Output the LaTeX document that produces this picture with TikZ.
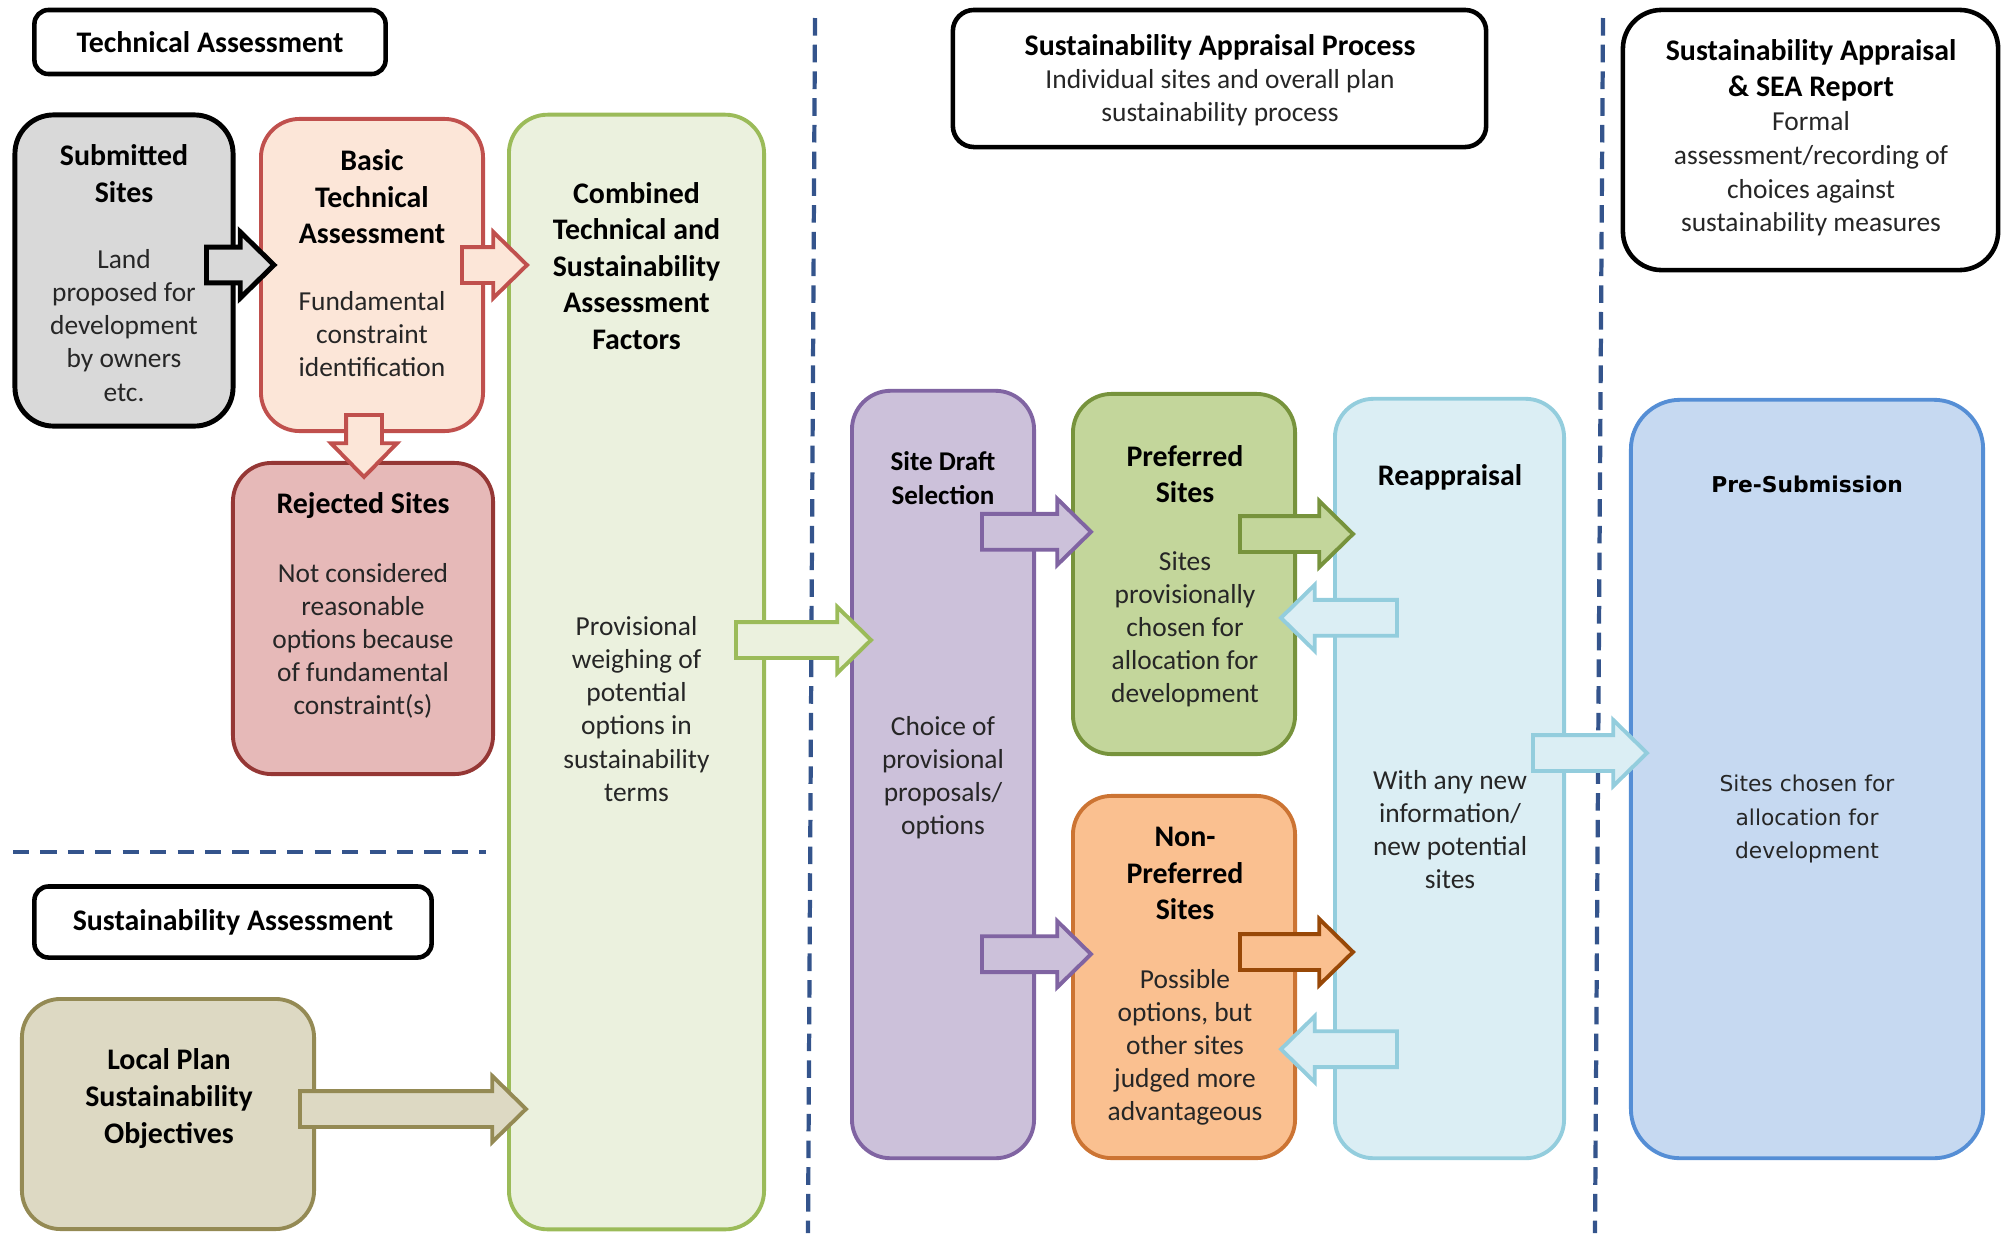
\documentclass[tikz,border=0pt]{standalone}
\usepackage{fontspec}
\setmainfont{Carlito}
\newfontfamily\verdanafont{DejaVu Sans}
\usepackage{xcolor}
\usepackage{tikz}
\usetikzlibrary{calc}

\definecolor{subfill}{HTML}{D9D9D9}
\definecolor{btafill}{HTML}{FCE6D8}
\definecolor{btadraw}{HTML}{C0504D}
\definecolor{rejfill}{HTML}{E6B9B8}
\definecolor{rejdraw}{HTML}{953735}
\definecolor{combfill}{HTML}{EBF1DE}
\definecolor{combdraw}{HTML}{9BBB59}
\definecolor{lpsfill}{HTML}{DDD9C3}
\definecolor{lpsdraw}{HTML}{948A54}
\definecolor{sdsfill}{HTML}{CCC1DA}
\definecolor{sdsdraw}{HTML}{8064A2}
\definecolor{preffill}{HTML}{C3D69B}
\definecolor{prefdraw}{HTML}{77933C}
\definecolor{npreffill}{HTML}{FAC090}
\definecolor{nprefdraw}{HTML}{CC7433}
\definecolor{nprefarr}{HTML}{984807}
\definecolor{reapfill}{HTML}{DBEEF4}
\definecolor{reapdraw}{HTML}{93CDDD}
\definecolor{psubfill}{HTML}{C6D9F1}
\definecolor{psubdraw}{HTML}{558ED5}
\definecolor{sepblue}{RGB}{52,84,140}
\definecolor{bodygray}{HTML}{262626}

\tikzset{
  box/.style={rounded corners=11pt, line width=1.1pt},
  hdr/.style={draw=black, fill=white, rounded corners=4pt, line width=1.3pt,
    font=\bfseries\fontsize{8.5}{10.4}\selectfont, align=center},
  ttl/.style={font=\bfseries\fontsize{8.5}{10.4}\selectfont, align=center, inner sep=0pt},
  txt/.style={font=\fontsize{7.8}{9.4}\selectfont, align=center, inner sep=0pt, text=bodygray},
  blockarr/.style={line width=1.1pt, line join=miter},
  sepline/.style={draw=sepblue, line width=1.2pt, dash pattern=on 5pt off 2.6pt},
  sephline/.style={sepline, dash pattern=on 4.6pt off 3.2pt}
}

% block arrow from #2 to #3 (tip), style #1, kept axis aligned
\newcommand\blockarrow[3]{%
  \draw[blockarr,#1] let \p1=#2, \p2=#3,
      \n1={90*round(atan2(\y2-\y1,\x2-\x1)/90)}, \n2={veclen(\x2-\x1,\y2-\y1)} in
    [shift={(\p1)}, rotate=\n1]
    (0pt,5.1pt) -- ({\n2*1pt-9.6pt},5.1pt) -- ({\n2*1pt-9.6pt},9.4pt) -- ({\n2*1pt},0pt)
    -- ({\n2*1pt-9.6pt},-9.4pt) -- ({\n2*1pt-9.6pt},-5.1pt) -- (0pt,-5.1pt) -- cycle;}

\begin{document}
\begin{tikzpicture}[x=0.01cm,y=-0.01cm]
	\useasboundingbox (0,0) rectangle (2004,1239);
	%
	\draw[sepline] (815,18) -- (808,1233);
	\draw[sepline] (1603,18) -- (1595,1233);
	\draw[sephline] (13,852) -- (486,852);
	%
	\node[hdr, minimum width=3.51cm, minimum height=0.64cm] (hdrta) at (210,42) {Technical Assessment};
	\node[hdr, minimum width=3.97cm, minimum height=0.71cm] (hdrsa) at (233,922) {Sustainability Assessment};
	\node[hdr, minimum width=5.33cm, minimum height=1.37cm, rounded corners=6pt] (hdrsap) at (1219.5,78.5) {};
	\node[hdr, minimum width=3.75cm, minimum height=2.60cm, rounded corners=11pt] (hdrsea) at (1810.5,140) {};
	%
	\node[box, draw=black, fill=subfill, line width=1.4pt, minimum width=2.18cm, minimum height=3.11cm] (sub) at (124,270.5) {};
	\node[box, draw=btadraw, fill=btafill, minimum width=2.22cm, minimum height=3.12cm] (bta) at (372,275) {};
	\node[box, draw=rejdraw, fill=rejfill, minimum width=2.60cm, minimum height=3.11cm] (rej) at (363,618.5) {};
	\node[box, draw=combdraw, fill=combfill, minimum width=2.55cm, minimum height=11.14cm] (comb) at (636.5,672) {};
	\node[box, draw=lpsdraw, fill=lpsfill, minimum width=2.92cm, minimum height=2.30cm] (lps) at (168,1114) {};
	\node[box, draw=sdsdraw, fill=sdsfill, minimum width=1.82cm, minimum height=7.67cm] (sds) at (943,774.5) {};
	\node[box, draw=prefdraw, fill=preffill, minimum width=2.22cm, minimum height=3.60cm] (pref) at (1184,574) {};
	\node[box, draw=nprefdraw, fill=npreffill, minimum width=2.22cm, minimum height=3.62cm] (npref) at (1184,977) {};
	\node[box, draw=reapdraw, fill=reapfill, minimum width=2.29cm, minimum height=7.59cm] (reap) at (1449.5,778.5) {};
	\node[box, draw=psubdraw, fill=psubfill, rounded corners=14pt, minimum width=3.52cm, minimum height=7.58cm] (psub) at (1807,779) {};
	%
	\blockarrow{draw=black, fill=subfill, line width=1.4pt}{($(sub.east)+(-29,-5.5)$)}{($(bta.west)+(15,-10)$)}
	\blockarrow{draw=btadraw, fill=btafill}{($(bta.east)+(-23,-10)$)}{($(comb.north west)+(20,150)$)}
	\blockarrow{draw=btadraw, fill=btafill}{($(bta.south)+(-8,-18)$)}{($(rej.north)+(1,16)$)}
	\blockarrow{draw=combdraw, fill=combfill}{($(comb.east)+(-30,-32)$)}{($(sds.west)+(21,-134.5)$)}
	\blockarrow{draw=lpsdraw, fill=lpsfill}{($(lps.east)+(-16,-5)$)}{($(comb.south west)+(19,-120)$)}
	\blockarrow{draw=sdsdraw, fill=sdsfill}{($(sds.north east)+(-54,143)$)}{($(pref.west)+(20,-40)$)}
	\blockarrow{draw=sdsdraw, fill=sdsfill}{($(sds.south east)+(-54,-206)$)}{($(npref.west)+(20,-25)$)}
	\blockarrow{draw=prefdraw, fill=preffill}{($(pref.east)+(-57,-40)$)}{($(reap.north west)+(20,135)$)}
	\blockarrow{draw=reapdraw, fill=reapfill}{($(reap.north west)+(64,221)$)}{($(pref.east)+(-16,46)$)}
	\blockarrow{draw=nprefarr, fill=npreffill}{($(npref.east)+(-57,-25)$)}{($(reap.south west)+(20,-206)$)}
	\blockarrow{draw=reapdraw, fill=reapfill}{($(reap.south west)+(64,-111)$)}{($(npref.east)+(-16,70)$)}
	\blockarrow{draw=reapdraw, fill=reapfill}{($(reap.east)+(-33,-25.5)$)}{($(psub.west)+(18,-26)$)}
	%
	\node[ttl] (subT) at (124,173.5) {Submitted\\Sites};
	\node[txt] (subB) at (124,325.5) {Land\\proposed for\\development\\by owners\\etc.};
	\node[ttl] (btaT) at (372,197) {Basic\\Technical\\Assessment};
	\node[txt] (btaB) at (372,334) {Fundamental\\constraint\\identification};
	\node[ttl] (rejT) at (363,506) {Rejected Sites};
	\node[txt] (rejB) at (363,640.5) {Not considered\\reasonable\\options because\\of fundamental\\constraint(s)};
	\node[ttl] (combT) at (636.5,266) {Combined\\Technical and\\Sustainability\\Assessment\\Factors};
	\node[txt] (combB) at (636.5,709) {Provisional\\weighing of\\potential\\options in\\sustainability\\terms};
	\node[ttl] (lpsT) at (169,1098.5) {Local Plan\\Sustainability\\Objectives};
	\node[ttl] (sapT) at (1220,47) {Sustainability Appraisal Process};
	\node[txt] (sapB) at (1220,97.5) {Individual sites and overall plan\\sustainability process};
	\node[ttl] (seaT) at (1811,70.5) {Sustainability Appraisal\\\& SEA Report};
	\node[txt, font=\fontsize{7.8}{9.6}\selectfont] (seaB) at (1811,174) {Formal\\assessment/recording of\\choices against\\sustainability measures};
	\node[ttl, font=\bfseries\fontsize{7.7}{9.6}\selectfont] (sdsT) at (943,478) {Site Draft\\Selection};
	\node[txt] (sdsB) at (943,778) {Choice of\\provisional\\proposals/\\options};
	\node[ttl] (prefT) at (1185,474) {Preferred\\Sites};
	\node[txt] (prefB) at (1185,629) {Sites\\provisionally\\chosen for\\allocation for\\development};
	\node[ttl] (nprefT) at (1185,873.5) {Non-\\Preferred\\Sites};
	\node[txt] (nprefB) at (1185,1047.5) {Possible\\options, but\\other sites\\judged more\\advantageous};
	\node[ttl] (reapT) at (1450,477) {Reappraisal};
	\node[txt] (reapB) at (1450,829.5) {With any new\\information/\\new potential\\sites};
	\node[ttl, font=\verdanafont\bfseries\fontsize{6.2}{9.4}\selectfont] (psubT) at (1807,484) {Pre-Submission};
	\node[txt, font=\verdanafont\fontsize{6.2}{9.4}\selectfont] (psubB) at (1807,819) {Sites chosen for\\allocation for\\development};
\end{tikzpicture}
\end{document}
